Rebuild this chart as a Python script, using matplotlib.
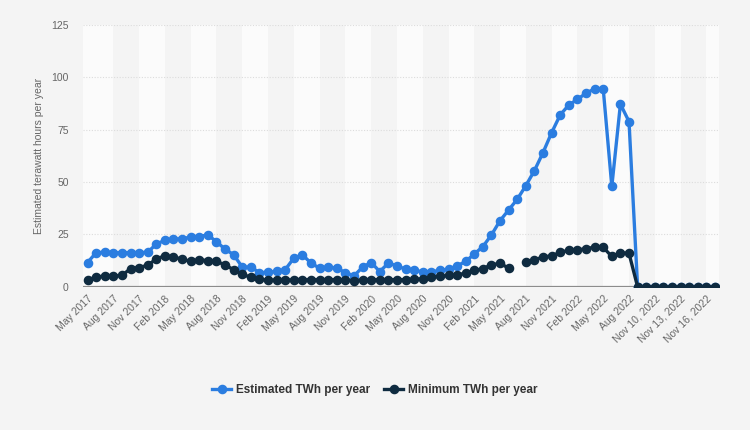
import numpy as np
import matplotlib
matplotlib.use("Agg")
import matplotlib.pyplot as plt

plt.rcParams['font.family'] = ['Liberation Sans', 'DejaVu Sans']

months = ["Jan", "Feb", "Mar", "Apr", "May", "Jun", "Jul", "Aug", "Sep", "Oct", "Nov", "Dec"]
categories = []
for y in range(2017, 2023):
    for mi, m in enumerate(months):
        if (y == 2017 and mi < 4) or (y == 2022 and mi > 7):
            continue
        categories.append(f"{m} {y}")
categories += [f"Nov {d}, 2022" for d in range(8, 18)]

estimated = [11.6, 16.3, 16.5, 16.3, 16.3, 16.3, 16.3, 16.5, 20.4, 22.2,
             22.7, 23.0, 23.7, 24.0, 24.8, 21.5, 18.0, 15.3, 9.4, 9.4,
             6.8, 6.9, 7.4, 8.2, 13.7, 15.3, 11.3, 8.9, 9.4, 8.9,
             6.8, 5.2, 9.4, 11.6, 7.3, 11.3, 10.0, 8.4, 7.8, 7.2,
             7.2, 7.8, 8.4, 10.0, 12.1, 15.7, 19.2, 24.8, 31.6, 36.7,
             41.8, 48.3, 55.5, 64.1, 73.6, 82.1, 86.8, 89.5, 92.4, 94.5,
             94.5, 47.9, 87.2, 78.9, 0, 0, 0, 0, 0, 0,
             0, 0, 0, 0]
minimum = [3.3, 4.6, 5.2, 5.2, 5.4, 8.7, 9.2, 10.3, 13.3, 14.8,
           14.2, 13.2, 12.1, 12.9, 12.5, 12.1, 10.5, 8.1, 5.9, 4.6,
           3.5, 3.2, 3.2, 3.2, 3.3, 3.4, 3.4, 3.4, 3.4, 3.4,
           3.3, 2.9, 3.3, 3.4, 3.4, 3.4, 3.4, 3.4, 3.5, 3.8,
           4.6, 5.0, 5.4, 5.7, 6.5, 7.8, 8.7, 10.5, 11.2, 8.9,
           np.nan, 11.8, 12.9, 14.2, 14.8, 16.4, 17.5, 17.7, 18.1, 19.0,
           18.8, 14.5, 16.2, 16.0, 0, 0, 0, 0, 0, 0,
           0, 0, 0, 0]
yticks = [0, 25, 50, 75, 100, 125]

blue = '#2b7de0'
dark = '#0f2b40'

fig = plt.figure(figsize=(7.5, 4.3), dpi=100, facecolor='#f4f4f4')
ax = fig.add_axes([0.111, 0.333, 0.848, 0.609])
ax.set_facecolor('#f4f4f4')

x = np.arange(len(categories))
n = len(categories)

# alternating bands
for k in range(0, n + 3, 6):
    lo = -0.5 if k == 0 else k
    hi = min(k + 3, n - 0.5)
    if lo < hi:
        ax.axvspan(lo, hi, color='#fbfbfb', lw=0, zorder=0)

for t in yticks[1:]:
    ax.axhline(t, color='#dcdcdc', lw=0.8, ls=(0, (1, 1.5)), zorder=1)
ax.axhline(0, color='#8c8c8c', lw=1.6, zorder=2)

ax.plot(x, estimated, color=blue, lw=2.4, marker='o', ms=5.9,
        label='Estimated TWh per year', zorder=4)
ax.plot(x, minimum, color=dark, lw=2.4, marker='o', ms=5.9,
        label='Minimum TWh per year', zorder=5)

ax.set_xlim(-0.5, n - 0.5)
ax.set_ylim(0, 125)
ax.set_yticks(yticks)
ax.set_yticklabels([str(t) for t in yticks], color='#666666', fontsize=7.5)
ax.set_xticks(x[::3])
ax.set_xticklabels(categories[::3], rotation=45, ha='right',
                   rotation_mode='anchor', color='#666666', fontsize=7.5)
ax.tick_params(length=0, pad=5)
ax.tick_params(axis='y', pad=10.5)
for s in ax.spines.values():
    s.set_visible(False)

ax.set_ylabel('Estimated terawatt hours per year', color='#666666',
              fontsize=7.5)
ax.yaxis.set_label_coords(-0.062, 0.5)

leg = fig.legend(loc='center', bbox_to_anchor=(0.5, 0.093), ncol=2,
                 frameon=False, fontsize=8.5, handlelength=1.6,
                 columnspacing=1.2, handletextpad=0.4)
for t in leg.get_texts():
    t.set_fontweight('bold')
    t.set_color('#333333')

fig.savefig('out.png', dpi=100, facecolor=fig.get_facecolor())
